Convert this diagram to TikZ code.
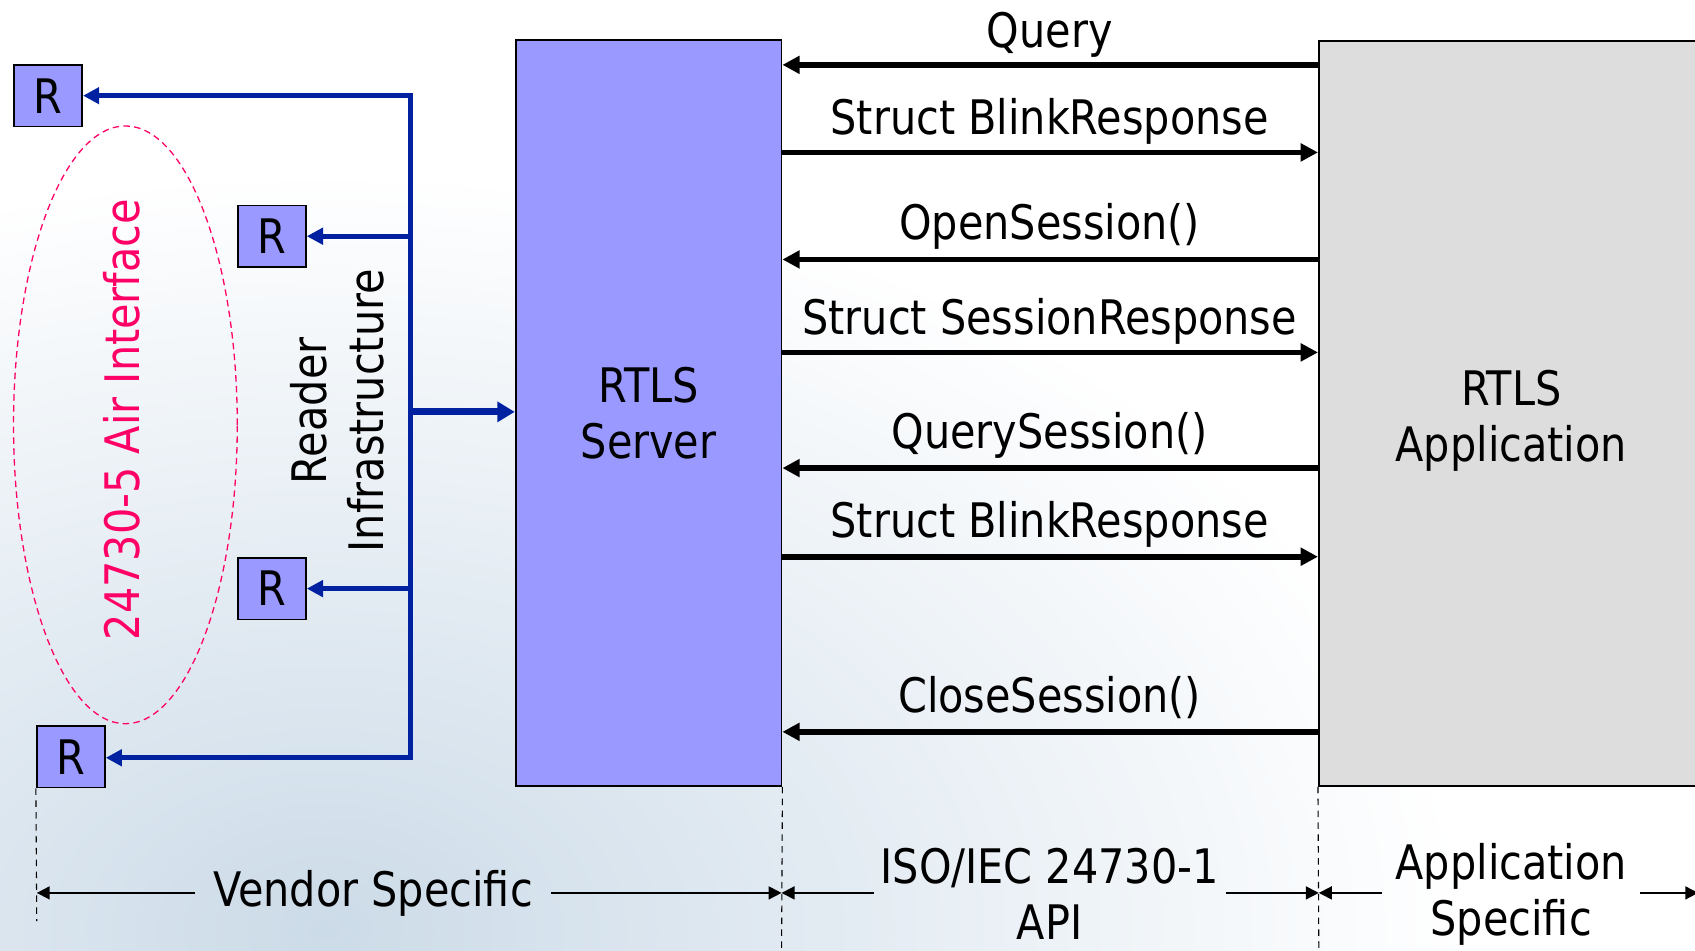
\documentclass[tikz,border=0pt]{standalone}
\usepackage{fontspec}
\setmainfont{DejaVu Sans}[FakeStretch=0.87]
\usetikzlibrary{arrows.meta,fadings,shapes.geometric}
\definecolor{serverfill}{HTML}{9999FF}
\definecolor{appfill}{HTML}{DDDDDD}
\definecolor{busblue}{HTML}{0022A0}
\definecolor{airpink}{HTML}{FF0066}
\definecolor{waterblue}{HTML}{CCDBE8}
\tikzfading[name=pool fade, inner color=transparent!0, outer color=transparent!100]

\begin{document}
\begin{tikzpicture}[x=1pt,y=-1pt,
  txt/.style={font=\fontsize{44}{52}\selectfont, inner sep=0pt},
  block/.style={draw=black, line width=1.6pt, inner sep=0pt, txt, align=center},
  reader/.style={block, fill=serverfill, minimum width=63pt, minimum height=57pt},
  msg/.style={line width=5.3pt, -{Triangle[length=16pt,width=16pt]}},
  bus/.style={busblue, line width=4.6pt},
  bustip/.style={-{Triangle[length=15pt,width=15pt]}},
  guide/.style={line width=1pt, dash pattern=on 6pt off 5pt},
  dim/.style={line width=1.6pt, -{Triangle[length=12pt,width=12pt]}},
  msglabel/.style={txt, anchor=base}
]
\useasboundingbox (0,0) rectangle (1568,879);

% soft water tint in the lower left
\fill[waterblue, path fading=pool fade] (300,860) ellipse (1050 and 700);

% main blocks
\node[block, fill=serverfill, minimum width=246pt, minimum height=690pt] (server) at (600,382) {RTLS\\Server};
\node[block, fill=appfill, minimum width=356pt, minimum height=689pt] (app) at (1398,382.5) {};
\node[txt, align=center] (apptext) at (1398,389) {RTLS\\Application};

% readers
\node[reader] (R1) at (44.5,88.5) {R};
\node[reader] (R2) at (251.5,218.5) {R};
\node[reader] (R3) at (251.5,544.5) {R};
\node[reader] (R4) at (65.5,700) {R};

% air interface
\node[draw=airpink, line width=1.2pt, dash pattern=on 6pt off 4pt, ellipse,
      minimum width=207pt, minimum height=553pt] (air) at (116,393) {};
\node[txt, rotate=90, text=airpink] (airlabel) at (113,388) {24730-5 Air Interface};

% reader infrastructure bus
\coordinate (j1) at (380,88.5);
\coordinate (j2) at (380,218.5);
\coordinate (jm) at (380,381);
\coordinate (j3) at (380,544.5);
\coordinate (j4) at (380,701);
\draw[bus, {Triangle[length=15pt,width=15pt]}-{Triangle[length=15pt,width=15pt]}]
  (R1.east) -- (j1) -- (j4) -- (R4.east |- j4);
\draw[bus, bustip] (j2) -- (R2.east);
\draw[bus, bustip] (j3) -- (R3.east);
\draw[bus, line width=6.5pt, -{Triangle[length=16pt,width=18pt]}] (jm) -- (server.west |- jm);
\node[txt, rotate=90, align=center] (infra) at (312,380) {Reader\\Infrastructure};

% API messages
\coordinate (m1) at (971,60);
\coordinate (m2) at (971,141);
\coordinate (m3) at (971,240);
\coordinate (m4) at (971,326);
\coordinate (m5) at (971,433);
\coordinate (m6) at (971,515);
\coordinate (m7) at (971,677);
\draw[msg] (app.west |- m1) -- (server.east |- m1);
\draw[msg] (server.east |- m2) -- (app.west |- m2);
\draw[msg] (app.west |- m3) -- (server.east |- m3);
\draw[msg] (server.east |- m4) -- (app.west |- m4);
\draw[msg] (app.west |- m5) -- (server.east |- m5);
\draw[msg] (server.east |- m6) -- (app.west |- m6);
\draw[msg] (app.west |- m7) -- (server.east |- m7);
\node[msglabel] (l1) at (971,44) {Query};
\node[msglabel] (l2) at (971,124) {Struct BlinkResponse};
\node[msglabel] (l3) at (971,222) {OpenSession()};
\node[msglabel] (l4) at (971,309) {Struct SessionResponse};
\node[msglabel] (l5) at (971,415) {QuerySession()};
\node[msglabel] (l6) at (971,497) {Struct BlinkResponse};
\node[msglabel] (l7) at (971,659) {CloseSession()};

% scope guides
\coordinate (g1) at (34,852);
\coordinate (g2) at (723,879);
\coordinate (g3) at (1220,879);
\draw[guide] (R4.south west) -- (g1);
\draw[guide] (server.south east) -- (g2);
\draw[guide] (app.south west) -- (g3);

% scope dimensions
\coordinate (d1) at (34,826);
\coordinate (d2) at (723,826);
\coordinate (d3) at (1220,826);
\coordinate (d4) at (1571,826);
\node[txt, inner xsep=17pt] (vs) at (345,826) {Vendor Specific};
\node[txt, align=center, inner xsep=6pt] (iso) at (971,827) {ISO/IEC 24730-1\\API};
\node[txt, align=center, inner xsep=12pt] (as) at (1398,827) {Application\\Specific};
\draw[dim] (vs.west |- d1) -- (d1);
\draw[dim] (vs.east |- d2) -- (d2);
\draw[dim] (iso.west |- d2) -- (d2);
\draw[dim] (iso.east |- d3) -- (d3);
\draw[dim] (as.west |- d3) -- (d3);
\draw[dim] (as.east |- d4) -- (d4);
\end{tikzpicture}
\end{document}
